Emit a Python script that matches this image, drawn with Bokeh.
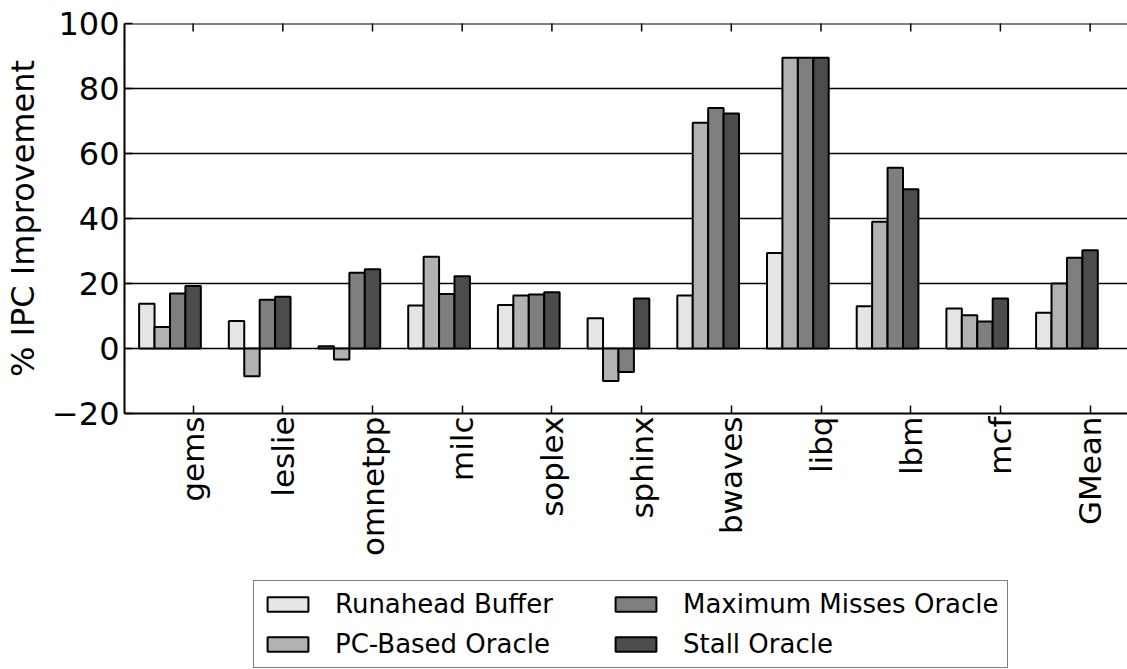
import math
from bokeh.plotting import figure
from bokeh.layouts import column
from bokeh.models import (Range1d, LinearAxis, FixedTicker, Legend, LegendItem, Span)
from bokeh.embed import file_html
from bokeh.resources import INLINE

categories = ["gems", "leslie", "omnetpp", "milc", "soplex", "sphinx",
              "bwaves", "libq", "lbm", "mcf", "GMean"]
runahead_buffer = [13.8, 8.5, 0.7, 13.2, 13.4, 9.3, 16.3, 29.4, 13.0, 12.3, 11.0]
pc_based_oracle = [6.6, -8.5, -3.4, 28.2, 16.3, -10.0, 69.5, 89.5, 39.0, 10.2, 20.0]
max_misses_oracle = [16.9, 15.0, 23.3, 16.8, 16.6, -7.2, 74.0, 89.5, 55.6, 8.3, 27.9]
stall_oracle = [19.2, 15.9, 24.4, 22.2, 17.3, 15.4, 72.3, 89.5, 49.0, 15.4, 30.2]
series_names = ["Runahead Buffer", "PC-Based Oracle", "Maximum Misses Oracle", "Stall Oracle"]
series_colors = ["#e5e5e5", "#b2b2b2", "#7f7f7f", "#4c4c4c"]
y_ticks = [-20, 0, 20, 40, 60, 80, 100]
y_min, y_max = -20, 100

FONT = "DejaVu Sans"

p = figure(width=1127, height=578, output_backend="svg", toolbar_location=None,
           x_range=Range1d(-0.765, 10.417), y_range=Range1d(y_min, y_max),
           min_border_left=124, min_border_right=0, min_border_top=23,
           min_border_bottom=165,
           x_axis_location=None, y_axis_location=None)
p.outline_line_color = None
p.xgrid.visible = False

# grid
p.ygrid.ticker = FixedTicker(ticks=y_ticks)
p.ygrid.grid_line_color = "black"
p.ygrid.grid_line_width = 1.5

w = 0.172
series = [runahead_buffer, pc_based_oracle, max_misses_oracle, stall_oracle]
for j, (vals, col) in enumerate(zip(series, series_colors)):
    xs = [i + (j - 3) * w for i in range(len(categories))]
    p.vbar(x=xs, top=vals, bottom=0, width=w, fill_color=col,
           line_color="black", line_width=2)

# top frame line and inward top ticks
p.add_layout(Span(location=y_max, dimension="width", line_color="black", line_width=2))
p.scatter(x=list(range(len(categories))), y=[y_max] * len(categories), marker="dash",
          angle=math.pi / 2, size=16, line_color="black", line_width=1.5)

# axes
xt = FixedTicker(ticks=list(range(len(categories))))
bottom = LinearAxis(ticker=xt)
bottom.major_label_overrides = {i: c for i, c in enumerate(categories)}
bottom.major_label_orientation = math.pi / 2
bottom.major_label_text_font = FONT
bottom.major_label_text_font_size = "31px"
bottom.major_label_text_color = "black"
bottom.major_label_standoff = 3
bottom.major_tick_in = 8
bottom.major_tick_out = 0
bottom.minor_tick_line_color = None
bottom.axis_line_width = 2
bottom.major_tick_line_width = 1.5
p.add_layout(bottom, "below")

left = LinearAxis(ticker=FixedTicker(ticks=y_ticks))
left.major_label_overrides = {-20: "\u221220"}
left.major_label_text_font = FONT
left.major_label_text_font_size = "32px"
left.major_label_text_color = "black"
left.major_label_standoff = 5
left.major_tick_in = 8
left.major_tick_out = 0
left.minor_tick_line_color = None
left.axis_line_width = 2
left.major_tick_line_width = 1.5
left.axis_label = "% IPC Improvement"
left.axis_label_text_font = FONT
left.axis_label_text_font_size = "32px"
left.axis_label_text_font_style = "normal"
left.axis_label_text_color = "black"
left.axis_label_standoff = 7
p.add_layout(left, "left")

# legend in its own strip below the chart (zero-size proxy glyphs hidden behind the legend)
lf = figure(width=1127, height=91, output_backend="svg", toolbar_location=None,
            x_range=Range1d(0, 1), y_range=Range1d(0, 1),
            min_border=0, x_axis_location=None, y_axis_location=None)
lf.outline_line_color = None
lf.grid.visible = False
lf_renderers = []
for col in series_colors:
    lf_renderers.append(lf.vbar(x=[0.5], top=[0.5], bottom=[0.5], width=0,
                                fill_color=col, line_color="black", line_width=2))
items = [LegendItem(label=n, renderers=[r]) for n, r in zip(series_names, lf_renderers)]
legend = Legend(items=items, ncols=2, location=(129, 1),
                label_text_font=FONT, label_text_font_size="26px",
                label_text_color="black", label_width=265,
                glyph_width=51, glyph_height=18, label_standoff=22,
                spacing=10, padding=8, margin=0,
                border_line_color="black", border_line_width=1.5,
                background_fill_color="white", background_fill_alpha=1)
lf.add_layout(legend, "center")

layout = column(p, lf, spacing=0)
open("out.html", "w").write(file_html(layout, INLINE))
